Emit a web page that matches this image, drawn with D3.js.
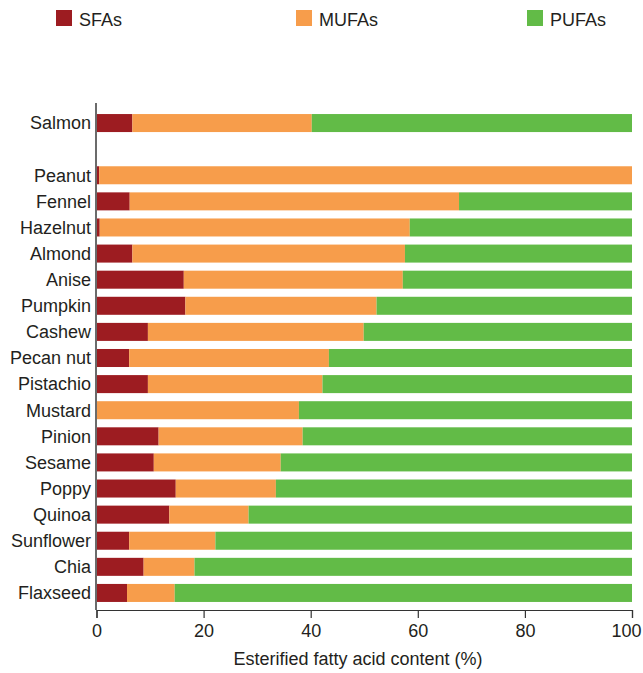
<!DOCTYPE html>
<html>
<head>
<meta charset="utf-8">
<script src="https://cdn.jsdelivr.net/npm/d3@7"></script>
<style>
  html, body { margin: 0; padding: 0; background: #fff; }
  svg { display: block; font-family: "Liberation Sans", Arial, sans-serif; }
</style>
</head>
<body>
<svg id="chart" width="643" height="673"></svg>
<script>
// Fatty acid composition (% of esterified fatty acids)
const categories = ["Salmon", "Peanut", "Fennel", "Hazelnut", "Almond", "Anise", "Pumpkin",
  "Cashew", "Pecan nut", "Pistachio", "Mustard", "Pinion", "Sesame", "Poppy", "Quinoa",
  "Sunflower", "Chia", "Flaxseed"];
const sfa  = [6.7, 0.5, 6.2, 0.6, 6.7, 16.3, 16.6, 9.6, 6.1, 9.6, 0, 11.6, 10.7, 14.8, 13.6, 6.1, 8.8, 5.7];
const mufa = [33.5, 99.5, 61.5, 57.9, 50.9, 40.9, 35.7, 40.3, 37.3, 32.6, 37.8, 26.9, 23.7, 18.7, 14.8, 16.1, 9.5, 8.9];
const pufa = [59.8, 0, 32.3, 41.5, 42.4, 42.8, 47.7, 50.1, 56.6, 57.8, 62.2, 61.5, 65.6, 66.5, 71.6, 77.8, 81.7, 85.4];
const seriesNames = ["SFAs", "MUFAs", "PUFAs"];
const seriesColors = ["#9d1c21", "#f79d4b", "#62bb47"];
const xTicks = [0, 20, 40, 60, 80, 100];
const xTitle = "Esterified fatty acid content (%)";

const svg = d3.select("#chart");
const textColor = "#231f20";

// one empty slot separates Salmon from the plant sources
const rows = ["Salmon", "__gap__", ...categories.slice(1)];

const x = d3.scaleLinear().domain([0, 100]).range([96.5, 632]);
const y = d3.scaleBand().domain(rows).range([110, 606]).paddingInner(0.31).paddingOuter(0.155);

const table = categories.map((c, i) => ({ name: c, SFAs: sfa[i], MUFAs: mufa[i], PUFAs: pufa[i] }));
const stacked = d3.stack().keys(seriesNames)(table);

// bars
svg.append("g").selectAll("g")
  .data(stacked)
  .join("g")
  .attr("fill", (d, i) => seriesColors[i])
  .selectAll("rect")
  .data(d => d)
  .join("rect")
  .attr("x", d => x(d[0]))
  .attr("y", d => y(d.data.name))
  .attr("width", d => Math.max(0, x(d[1]) - x(d[0])))
  .attr("height", y.bandwidth());

// category labels
svg.append("g").selectAll("text")
  .data(categories)
  .join("text")
  .attr("x", 91)
  .attr("y", d => y(d) + y.bandwidth() / 2)
  .attr("dy", "0.35em")
  .attr("text-anchor", "end")
  .attr("font-size", 18)
  .attr("fill", textColor)
  .text(d => d);

// x axis
const xAxis = svg.append("g")
  .attr("transform", "translate(0,610)")
  .call(d3.axisBottom(x).tickValues(xTicks).tickSize(8).tickSizeOuter(8).tickPadding(6));
xAxis.select(".domain").attr("stroke", "#333").attr("stroke-width", 1.2);
xAxis.selectAll(".tick line").attr("stroke", "#333").attr("stroke-width", 1.2);
xAxis.selectAll(".tick text")
  .attr("font-size", 18)
  .attr("font-family", "Liberation Sans, Arial, sans-serif")
  .attr("fill", textColor);
// keep the last tick label inside the canvas
xAxis.selectAll(".tick text").filter(d => d === 100).attr("dx", -6);

// y axis line
svg.append("line")
  .attr("x1", 96).attr("x2", 96)
  .attr("y1", 103).attr("y2", 610)
  .attr("stroke", "#6b6b6b")
  .attr("stroke-width", 2);

// axis title
svg.append("text")
  .attr("x", 358)
  .attr("y", 665)
  .attr("text-anchor", "middle")
  .attr("font-size", 18)
  .attr("fill", textColor)
  .text(xTitle);

// legend
const legendX = [56, 296, 527];
const legend = svg.append("g").selectAll("g")
  .data(seriesNames)
  .join("g")
  .attr("transform", (d, i) => `translate(${legendX[i]},10)`);
legend.append("rect")
  .attr("width", 16).attr("height", 16)
  .attr("fill", (d, i) => seriesColors[i]);
legend.append("text")
  .attr("x", 23)
  .attr("y", 16)
  .attr("font-size", 18)
  .attr("fill", textColor)
  .text(d => d);
</script>
</body>
</html>
